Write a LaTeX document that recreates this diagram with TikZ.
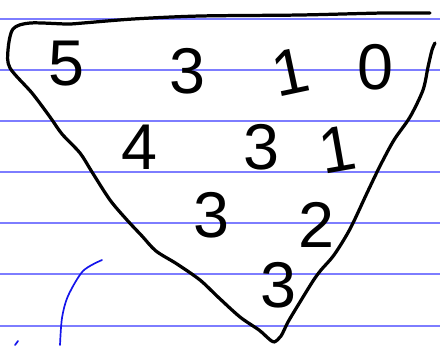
\documentclass[tikz,border=0pt]{standalone}
\usepackage{fontspec}
\usepackage{tikz}
\newfontfamily\handfont{Liberation Sans}
\definecolor{ruleblue}{RGB}{125,125,255}
\definecolor{inkblue}{RGB}{20,20,235}

\begin{document}
\begin{tikzpicture}[x=0.025cm, y=-0.025cm, line cap=round, line join=round,
  digit/.style={font=\handfont\fontsize{46}{46}\selectfont, inner sep=0pt},
  pen/.style={line width=2.3pt, black}]
\useasboundingbox (0,0) rectangle (440,345);
% ruled paper
\foreach \y in {19,70,121,172,223,274,326}
  \draw[ruleblue, line width=0.8pt] (0,\y) -- (440,\y);
% the triangle, open at the top right corner
\draw[pen] plot[smooth, tension=0.5] coordinates {
  (430,13) (383,13) (300,15) (200,16) (133,19) (83,23) (67,24) (30,23)
  (13,29) (8,50) (10,68) (32,93) (50,117) (62,134) (80,153) (92,172)
  (110,200) (127,220) (142,236) (156,251) (177,264) (200,280) (218,297)
  (240,317) (259,330) (268,338) (274,342) (281,336) (288,322) (300,302)
  (313,281) (321,270) (334,255) (350,229) (367,193) (380,166) (394,140)
  (410,117) (423,90) (428,67) (432,50) (435,43)};
% numbers, row by row
\foreach \x/\y/\d/\a/\n in {66/64/5/0/r1a, 187/71/3/0/r1b, 290/72/1/12/r1c, 375/67/0/0/r1d,
  139/147/4/0/r2a, 261/147/3/0/r2b, 337/149/1/10/r2c,
  211/215/3/0/r3a, 316/225/2/0/r3b,
  278/285/3/0/r4a}
  \node[digit, rotate=\a] (\n) at (\x,\y) {\d};
% blue pen stroke at the bottom left
\draw[inkblue, line width=1.2pt] plot[smooth] coordinates {(102,260) (83,271) (68,296) (62,318) (60,345)};
\draw[inkblue, line width=1.2pt] (18,341) -- (15,345);
\end{tikzpicture}
\end{document}
